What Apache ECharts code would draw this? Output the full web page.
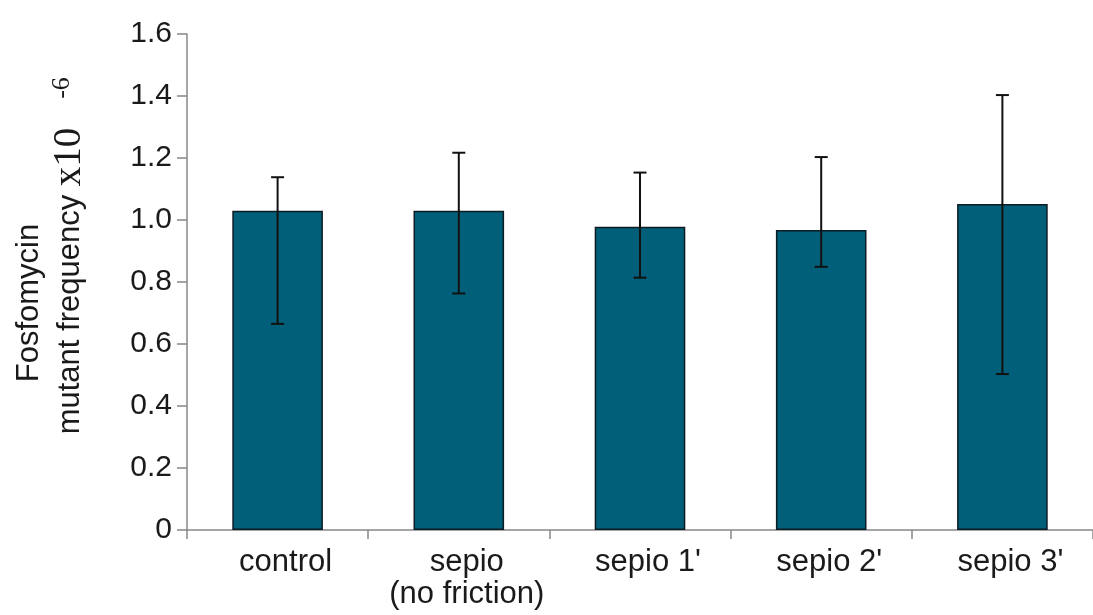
<!DOCTYPE html>
<html>
<head>
<meta charset="utf-8">
<script src="https://cdn.jsdelivr.net/npm/echarts@6/dist/echarts.min.js"></script>
<style>
html,body{margin:0;padding:0;background:#fff;}
#chart{width:1093px;height:615px;}
</style>
</head>
<body>
<div id="chart"></div>
<script>
const categories = ['control', 'sepio\n(no friction)', "sepio 1'", "sepio 2'", "sepio 3'"];
const means = [1.03, 1.03, 0.978, 0.968, 1.052];
const errHigh = [1.138, 1.217, 1.153, 1.203, 1.403];
const errLow = [0.665, 0.763, 0.814, 0.849, 0.503];
const yTickLabels = ['0', '0.2', '0.4', '0.6', '0.8', '1.0', '1.2', '1.4', '1.6'];

const chart = echarts.init(document.getElementById('chart'));
const errData = categories.map((c, i) => [i, errLow[i], errHigh[i]]);

chart.setOption({
  animation: false,
  backgroundColor: '#ffffff',
  grid: { left: 187, right: -4, top: 34, bottom: 85, containLabel: false },
  xAxis: {
    type: 'category',
    data: categories,
    axisLine: { lineStyle: { color: '#888', width: 1.5 } },
    axisTick: { show: true, length: 9, lineStyle: { color: '#888', width: 1.5 } },
    axisLabel: {
      color: '#1a1a1a', fontSize: 31, fontFamily: 'Liberation Sans, Arial, sans-serif',
      margin: 16, lineHeight: 32, interval: 0, padding: [0, 0, 0, 16]
    }
  },
  yAxis: {
    type: 'value', min: 0, max: 1.6, interval: 0.2,
    splitLine: { show: false },
    axisLine: { show: true, lineStyle: { color: '#888', width: 1.5 } },
    axisTick: { show: true, length: 10, lineStyle: { color: '#888', width: 1.5 } },
    axisLabel: {
      color: '#1a1a1a', fontSize: 30, fontFamily: 'Liberation Sans, Arial, sans-serif',
      margin: 15,
      formatter: (v) => yTickLabels[Math.round(v / 0.2)]
    }
  },
  series: [
    {
      type: 'bar',
      data: means,
      barWidth: '50%',
      itemStyle: { color: '#025f79', borderColor: '#0c1c24', borderWidth: 1.5 }
    },
    {
      type: 'custom',
      data: errData,
      z: 10,
      renderItem: function (params, api) {
        const x = api.value(0);
        const lo = api.coord([x, api.value(1)]);
        const hi = api.coord([x, api.value(2)]);
        const hw = 6.5;
        const st = { stroke: '#111', lineWidth: 2 };
        return {
          type: 'group',
          children: [
            { type: 'line', shape: { x1: lo[0], y1: lo[1], x2: hi[0], y2: hi[1] }, style: st },
            { type: 'line', shape: { x1: hi[0] - hw, y1: hi[1], x2: hi[0] + hw, y2: hi[1] }, style: st },
            { type: 'line', shape: { x1: lo[0] - hw, y1: lo[1], x2: lo[0] + hw, y2: lo[1] }, style: st }
          ]
        };
      }
    }
  ],
  graphic: [
    {
      type: 'text', x: 29, y: 303, rotation: Math.PI / 2,
      style: {
        text: 'Fosfomycin', fill: '#1a1a1a',
        font: '31px "Liberation Sans", Arial, sans-serif',
        align: 'center', verticalAlign: 'middle'
      }
    },
    {
      type: 'text', x: 70, y: 281, rotation: Math.PI / 2,
      style: {
        text: 'mutant frequency {s|x10}', fill: '#1a1a1a',
        font: '31px "Liberation Sans", Arial, sans-serif',
        align: 'center', verticalAlign: 'middle',
        rich: { s: { font: '39px "Liberation Serif", "Times New Roman", serif', fill: '#1a1a1a' } }
      }
    },
    {
      type: 'text', x: 62, y: 88, rotation: Math.PI / 2,
      style: {
        text: '-6', fill: '#1a1a1a',
        font: '26px "Liberation Serif", "Times New Roman", serif',
        align: 'center', verticalAlign: 'middle'
      }
    }
  ]
});
</script>
</body>
</html>
